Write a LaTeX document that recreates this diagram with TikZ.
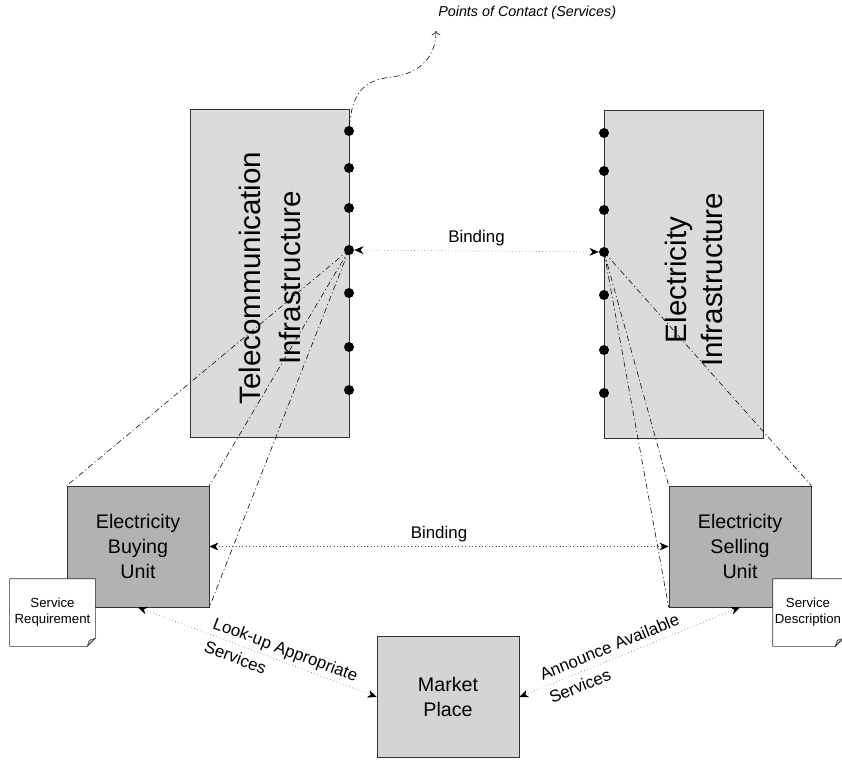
\documentclass[tikz,border=0pt]{standalone}
\usepackage{fontspec}
\setmainfont{Liberation Sans}
\usetikzlibrary{arrows.meta,calc,positioning}

\begin{document}
\begin{tikzpicture}[x=0.025cm, y=-0.025cm,
    infra/.style={draw=black!80, fill=black!14, minimum width=3.975cm, minimum height=8.2cm, inner sep=0},
    unit/.style={draw=black!80, fill=black!30, minimum width=3.55cm, minimum height=3.025cm, inner sep=0, align=center, font=\fontsize{14}{17.5}\selectfont},
    market/.style={unit, fill=black!17},
    note/.style={fill=white, minimum height=1.675cm, inner sep=0, align=center, font=\fontsize{9.4}{11.4}\selectfont},
    pnt/.style={circle, fill=black, inner sep=0, minimum size=0.25cm},
    bind/.style={dotted, black!70, {Stealth[black, length=6.5pt, width=5.5pt, inset=2pt]}-{Stealth[black, length=6.5pt, width=5.5pt, inset=2pt]}},
    link/.style={black, dash pattern=on 4pt off 2pt on 0.8pt off 2pt},
    lbl/.style={font=\fontsize{12}{14}\selectfont, black},
    slbl/.style={font=\fontsize{12}{18}\selectfont, black, sloped, align=left, inner sep=1pt}]

    \useasboundingbox (0,0) rectangle (842,759);

    \node[infra] (tele) at (269.5,273.5) {};
    \node[infra] (elec) at (684,274)     {};
    \node[rotate=90, align=center, font=\fontsize{21}{28}\selectfont] (teletxt) at (270,278) {Telecommunication\\Infrastructure};
    \node[rotate=90, align=center, font=\fontsize{21}{26}\selectfont] (electxt) at (694,280) {Electricity\\Infrastructure};

    \node[unit]   (buy)  at (138,546.5) {Electricity\\Buying\\Unit};
    \node[unit]   (sell) at (740,546.5) {Electricity\\Selling\\Unit};
    \node[market] (mkt)  at (448,697)   {Market\\Place};

    \node[note, minimum width=2.125cm] (req)  at (52.5,612.5) {Service\\Requirement};
    \node[note, minimum width=1.75cm]  (desc) at (808,612.5)  {Service\\Description};

    \draw[black!80] (req.north west) -- (req.north east) -- ($(req.south east)+(0,-8)$) -- ($(req.south east)+(-8,0)$) -- (req.south west) -- cycle;
    \draw[black!80, fill=black!25] ($(req.south east)+(0,-8)$) -- ($(req.south east)+(-8,0)$) -- ($(req.south east)+(-6,-6)$) -- cycle;
    \draw[black!80] (desc.north west) -- (desc.north east) -- ($(desc.south east)+(0,-8)$) -- ($(desc.south east)+(-8,0)$) -- (desc.south west) -- cycle;
    \draw[black!80, fill=black!25] ($(desc.south east)+(0,-8)$) -- ($(desc.south east)+(-8,0)$) -- ($(desc.south east)+(-6,-6)$) -- cycle;

    \coordinate (t1) at (349,131);
    \coordinate (t4) at (349,250);
    \coordinate (e4) at (604,252);

    \draw[link] (t4) -- (buy.north west);
    \draw[link] (t4) -- (buy.north east);
    \draw[link] (t4) -- (buy.south east);
    \draw[link] (e4) -- (sell.north west);
    \draw[link] (e4) -- (sell.south west);
    \draw[link] (e4) -- (sell.north east);

    \node[pnt] (tc1) at (t1)        {};
    \node[pnt] (tc2) at (349,168)   {};
    \node[pnt] (tc3) at (349,208)   {};
    \node[pnt] (tc4) at (t4)        {};
    \node[pnt] (tc5) at (349,293)   {};
    \node[pnt] (tc6) at (349,347)   {};
    \node[pnt] (tc7) at (349,390)   {};

    \node[pnt] (ec1) at (604,133)   {};
    \node[pnt] (ec2) at (604,171)   {};
    \node[pnt] (ec3) at (604,210)   {};
    \node[pnt] (ec4) at (e4)        {};
    \node[pnt] (ec5) at (604,295)   {};
    \node[pnt] (ec6) at (604,350)   {};
    \node[pnt] (ec7) at (604,393)   {};

    \node[anchor=west, inner sep=0, font=\itshape\fontsize{10.2}{12}\selectfont] (poc) at (438,13) {Points of Contact (Services)};
    \coordinate (poctip) at (436,31);
    \draw[link, -{To[length=3pt]}] (tc1) .. controls (352,95) and (362,80) .. (392,77) .. controls (422,73) and (436,55) .. (poctip);

    \draw[bind] (tc4) -- node[lbl, above] {Binding} (ec4);
    \draw[bind] (buy.east) -- node[lbl, above] {Binding} (sell.west);

    \draw[bind] (buy.south) -- node[slbl, pos=0.6] {Look-up Appropriate\\Services} (mkt.west);
    \draw[bind] (mkt.east) -- node[slbl, pos=0.43] {Announce Available\\Services} (sell.south);

\end{tikzpicture}
\end{document}
